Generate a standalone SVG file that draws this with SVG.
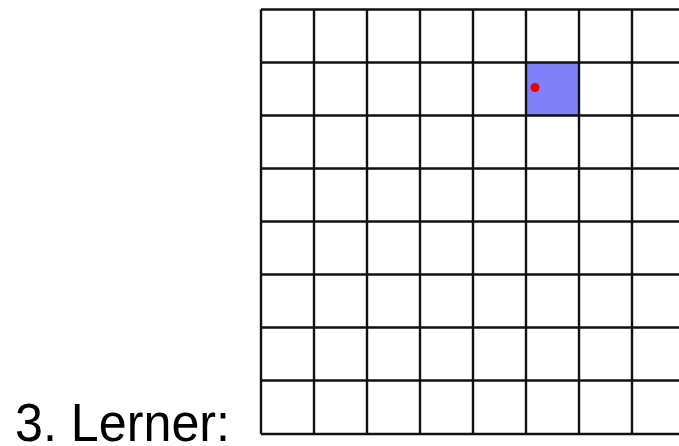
<svg xmlns="http://www.w3.org/2000/svg" width="679" height="446" viewBox="0 0 679 446">
<style>
.grid line{stroke:#111;stroke-width:2.4}
.lbl{font-family:"Liberation Sans",Arial,sans-serif;font-size:54px;fill:#000}
</style>
<rect width="679" height="446" fill="#fff"/>
<g id="highlight"><rect x="526" y="62.5" width="53" height="53" fill="#8080f8"/><circle cx="535" cy="87.5" r="4.5" fill="#ee0000"/></g>
<g id="grid" class="grid">
<line x1="261" y1="9.5" x2="261" y2="434"/>
<line x1="314" y1="9.5" x2="314" y2="434"/>
<line x1="367" y1="9.5" x2="367" y2="434"/>
<line x1="420" y1="9.5" x2="420" y2="434"/>
<line x1="473" y1="9.5" x2="473" y2="434"/>
<line x1="526" y1="9.5" x2="526" y2="434"/>
<line x1="579" y1="9.5" x2="579" y2="434"/>
<line x1="632" y1="9.5" x2="632" y2="434"/>
<line x1="261" y1="9.5" x2="685" y2="9.5"/>
<line x1="261" y1="62.5" x2="685" y2="62.5"/>
<line x1="261" y1="115.5" x2="685" y2="115.5"/>
<line x1="261" y1="168.5" x2="685" y2="168.5"/>
<line x1="261" y1="221.5" x2="685" y2="221.5"/>
<line x1="261" y1="274.5" x2="685" y2="274.5"/>
<line x1="261" y1="327.5" x2="685" y2="327.5"/>
<line x1="261" y1="380.5" x2="685" y2="380.5"/>
<line x1="261" y1="434" x2="685" y2="434"/>
</g>
<g id="label"><text class="lbl" x="15" y="441" textLength="215" lengthAdjust="spacingAndGlyphs">3. Lerner:</text></g>
</svg>
